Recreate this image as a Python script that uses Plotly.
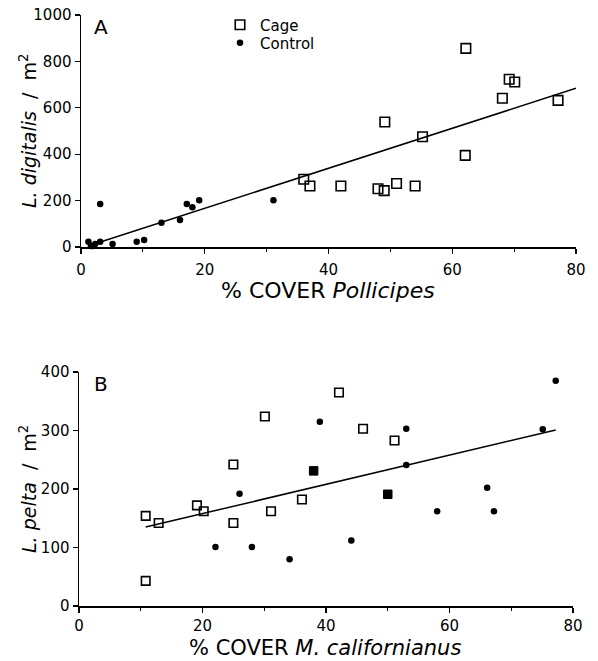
import plotly.graph_objects as go

# ---------------- Panel A data (L. digitalis vs % cover Pollicipes) ----------------
a_cage_x = [36.0, 37.0, 42.0, 48.0, 49.0, 49.1, 51.0, 54.0, 55.2, 62.1, 62.2, 68.1, 69.2, 70.1, 77.1]
a_cage_y = [292, 263, 263, 251, 243, 539, 274, 263, 475, 395, 856, 641, 723, 711, 632]
a_ctrl_x = [1.2, 1.6, 1.9, 2.3, 3.1, 3.1, 5.1, 9.0, 10.2, 13.0, 16.0, 17.1, 18.0, 19.1, 31.1]
a_ctrl_y = [23, 4, 4, 13, 23, 185, 13, 23, 30, 105, 116, 185, 171, 201, 201]
a_fit_x = [2.5, 80]
a_fit_y = [16, 684]

# ---------------- Panel B data (L. pelta vs % cover M. californianus) ----------------
b_cage_x = [10.8, 12.9, 10.8, 19.1, 20.2, 25.0, 25.0, 30.1, 31.1, 36.1, 42.1, 46.0, 51.1]
b_cage_y = [154, 142, 43, 172, 162, 242, 142, 324, 162, 182, 365, 303, 283]
b_both_x = [38.0, 50.0]
b_both_y = [231, 191]
b_ctrl_x = [22.1, 26.0, 28.0, 34.1, 39.0, 44.1, 53.0, 53.0, 58.0, 66.1, 67.2, 75.1, 77.2]
b_ctrl_y = [101, 192, 101, 80, 315, 112, 303, 241, 162, 202, 162, 302, 385]
b_fit_x = [10.8, 77.2]
b_fit_y = [135, 301]

FONT = "DejaVu Sans"
W, H = 598, 661

fig = go.Figure()

sq = dict(symbol="square-open", size=9.5, color="black", line=dict(width=1.6, color="black"))
dot = dict(symbol="circle", size=6.5, color="black")

fig.add_trace(go.Scatter(x=a_cage_x, y=a_cage_y, mode="markers", marker=sq, name="Cage",
                         legend="legend", xaxis="x", yaxis="y", cliponaxis=False, hoverinfo="skip"))
fig.add_trace(go.Scatter(x=a_ctrl_x, y=a_ctrl_y, mode="markers", marker=dot, name="Control",
                         legend="legend2", xaxis="x", yaxis="y", cliponaxis=False, hoverinfo="skip"))
fig.add_trace(go.Scatter(x=a_fit_x, y=a_fit_y, mode="lines", line=dict(color="black", width=1.5),
                         showlegend=False, xaxis="x", yaxis="y", cliponaxis=False, hoverinfo="skip"))

fig.add_trace(go.Scatter(x=b_fit_x, y=b_fit_y, mode="lines", line=dict(color="black", width=1.5),
                         showlegend=False, xaxis="x2", yaxis="y2", cliponaxis=False, hoverinfo="skip"))
fig.add_trace(go.Scatter(x=b_cage_x, y=b_cage_y, mode="markers",
                         marker=dict(symbol="square-open", size=8.5, color="black", line=dict(width=1.6)),
                         showlegend=False, xaxis="x2", yaxis="y2", cliponaxis=False, hoverinfo="skip"))
fig.add_trace(go.Scatter(x=b_both_x, y=b_both_y, mode="markers",
                         marker=dict(symbol="square", size=8.5, color="black", line=dict(width=1, color="black")),
                         showlegend=False, xaxis="x2", yaxis="y2", cliponaxis=False, hoverinfo="skip"))
fig.add_trace(go.Scatter(x=b_ctrl_x, y=b_ctrl_y, mode="markers",
                         marker=dict(symbol="circle", size=6.5, color="black"),
                         showlegend=False, xaxis="x2", yaxis="y2", cliponaxis=False, hoverinfo="skip"))


def px_x(p):
    return p / W


def px_y(p):
    return 1 - p / H


axis_common = dict(showline=True, linecolor="black", linewidth=1.5, showgrid=False, zeroline=False,
                   ticks="outside", ticklen=5, tickwidth=1.2, tickcolor="black", automargin=False,
                   tickfont=dict(family=FONT, size=15, color="black"))
xminor = dict(ticks="outside", ticklen=3, tickwidth=1, tickcolor="black", dtick=10)
leg_common = dict(xanchor="left", yanchor="middle", font=dict(family=FONT, size=15, color="black"),
                  bgcolor="rgba(0,0,0,0)", borderwidth=0, itemsizing="trace")

fig.update_layout(
    width=W, height=H,
    margin=dict(l=0, r=0, t=0, b=0, pad=0, autoexpand=False),
    paper_bgcolor="white", plot_bgcolor="white",
    font=dict(family=FONT, color="black"),
    xaxis=dict(domain=[px_x(81), px_x(576)], range=[0, 80], dtick=20, anchor="y",
               minor=xminor, ticklabelstandoff=3, **axis_common),
    yaxis=dict(domain=[px_y(247), px_y(15)], range=[0, 1000], dtick=200, anchor="x", **axis_common),
    xaxis2=dict(domain=[px_x(79), px_x(573)], range=[0, 80], dtick=20, anchor="y2",
                minor=xminor, **axis_common),
    yaxis2=dict(domain=[px_y(606), px_y(372)], range=[0, 400], dtick=100, anchor="x2", **axis_common),
    showlegend=True,
    legend=dict(x=px_x(220), y=px_y(25), **leg_common),
    legend2=dict(x=px_x(220), y=px_y(43), **leg_common),
)

annots = [
    dict(text="A", x=px_x(92), y=px_y(27), xanchor="left", yanchor="middle", font=dict(size=20)),
    dict(text="B", x=px_x(92), y=px_y(384), xanchor="left", yanchor="middle", font=dict(size=20)),
    dict(text="% COVER <i>Pollicipes</i>", x=px_x(328), y=px_y(290), xanchor="center",
         yanchor="middle", font=dict(size=22)),
    dict(text="% COVER <i>M. californianus</i>", x=px_x(325), y=px_y(648), xanchor="center",
         yanchor="middle", font=dict(size=21)),
    dict(text="<i>L. digitalis</i>  /  m<sup>2</sup>", x=px_x(28), y=px_y(131), xanchor="center",
         yanchor="middle", textangle=-90, font=dict(size=19)),
    dict(text="<i>L. pelta</i>  /  m<sup>2</sup>", x=px_x(28), y=px_y(489), xanchor="center",
         yanchor="middle", textangle=-90, font=dict(size=19)),
]
for a in annots:
    a.update(xref="paper", yref="paper", showarrow=False)
    a["font"].update(family=FONT, color="black")
fig.update_layout(annotations=annots)

fig.write_html("out.html",
               config={"displayModeBar": False, "staticPlot": True},
               post_script="document.body.style.margin='0';document.body.style.overflow='hidden';")
